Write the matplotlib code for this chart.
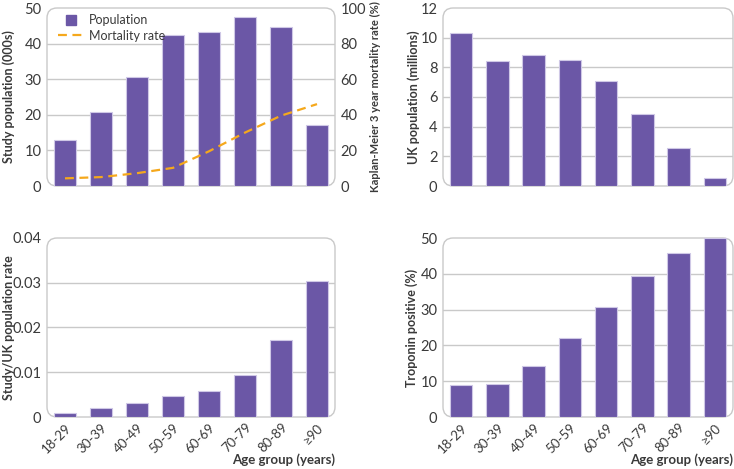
import matplotlib
matplotlib.use("Agg")
import matplotlib.pyplot as plt
from matplotlib.lines import Line2D
from matplotlib.patches import FancyBboxPatch

plt.rcParams["font.family"] = ["Lato", "DejaVu Sans"]

# ---------------------------------------------------------------------------
# Data
# ---------------------------------------------------------------------------
age_groups = ["18-29", "30-39", "40-49", "50-59", "60-69", "70-79", "80-89", "≥90"]
study_pop = [13.0, 20.8, 30.5, 42.3, 43.3, 47.5, 44.7, 17.2]          # 000s
mortality = [4.3, 5.0, 7.2, 10.2, 19.5, 30.0, 39.5, 46.0]             # %
uk_pop = [10.3, 8.4, 8.85, 8.5, 7.1, 4.85, 2.55, 0.55]                # millions
pop_rate = [0.0009, 0.0021, 0.0032, 0.0046, 0.0057, 0.0094, 0.0172, 0.0305]
troponin = [8.9, 9.2, 14.2, 22.1, 30.8, 39.3, 45.8, 50.0]             # %

BAR = "#6b57a6"
EDGE = "#cfc8e6"
ORANGE = "#f5a81c"
GRID = "#c9c9c9"
TXT = "#3a3a3a"


def style(ax, ymax, step, fmt=None):
    ax.set_xlim(-0.5, 7.5)
    ax.set_ylim(0, ymax)
    ticks = [i * step for i in range(int(round(ymax / step)) + 1)]
    ax.set_yticks(ticks)
    if fmt:
        ax.set_yticklabels([fmt(t) for t in ticks])
    for t in ticks[1:-1]:
        ax.axhline(t, color=GRID, lw=1.0, zorder=0)
    for s in ax.spines.values():
        s.set_visible(False)
    ax.tick_params(length=0, labelsize=10.5, colors=TXT, pad=4)
    box = FancyBboxPatch((0, 0), 1, 1, boxstyle="round,pad=0,rounding_size=0.035",
                         transform=ax.transAxes, fill=False, ec=GRID, lw=1.0,
                         clip_on=False, zorder=0.5,
                         mutation_aspect=ax.bbox.width / ax.bbox.height)
    ax.add_patch(box)


def bars(ax, vals):
    return ax.bar(range(len(vals)), vals, width=0.62, color=BAR, edgecolor=EDGE,
                  lw=0.8, zorder=2)


def ylab(ax, text, xpos, size=9):
    ax.set_ylabel(text, fontsize=size, fontweight="bold", color=TXT)
    ax.yaxis.set_label_coords(xpos, 0.5)


fig = plt.figure(figsize=(7.34, 4.69), dpi=100)
W, H = 734, 469


def add_axes(x0, x1, ytop, ybot):
    return fig.add_axes([x0 / W, 1 - ybot / H, (x1 - x0) / W, (ybot - ytop) / H])


ax1 = add_axes(47, 335, 8, 186)
ax2 = add_axes(443, 733, 8, 186)
ax3 = add_axes(47, 335, 238, 417)
ax4 = add_axes(443, 733, 238, 417)

# top left: study population + mortality
style(ax1, 50, 10)
bars(ax1, study_pop)
ax1.set_xticks(range(8))
ax1.set_xticklabels([])
ylab(ax1, "Study population (000s)", -0.11)
ax1r = ax1.twinx()
ax1r.set_ylim(0, 100)
ax1r.set_yticks(range(0, 101, 20))
for s in ax1r.spines.values():
    s.set_visible(False)
ax1r.tick_params(length=0, labelsize=10.5, colors=TXT, pad=4)
ln, = ax1r.plot(range(8), mortality, color=ORANGE, lw=1.6, ls=(0, (4, 2.5)), zorder=3)
ylab(ax1r, "Kaplan-Meier 3 year mortality rate (%)", 1.123, size=8.0)
pop_handle = Line2D([], [], marker="s", ls="", color=BAR, markersize=7.5)
ax1r.legend([pop_handle, ln], ["Population", "Mortality rate"], loc="upper left",
            bbox_to_anchor=(0.0, 1.03), frameon=False, fontsize=9,
            handlelength=2.0, handletextpad=0.45, labelspacing=0.3, labelcolor=TXT)

# top right: UK population
style(ax2, 12, 2)
bars(ax2, uk_pop)
ax2.set_xticks(range(8))
ax2.set_xticklabels([])
ylab(ax2, "UK population (millions)", -0.079)

# bottom left: ratio
style(ax3, 0.04, 0.01, fmt=lambda t: "0" if t == 0 else f"{t:.2f}")
bars(ax3, pop_rate)
ylab(ax3, "Study/UK population rate", -0.112)

# bottom right: troponin
style(ax4, 50, 10)
bars(ax4, troponin)
ylab(ax4, "Troponin positive (%)", -0.086)

for ax in (ax3, ax4):
    ax.set_xticks(range(8))
    ax.set_xticklabels(age_groups, rotation=45, ha="right", rotation_mode="anchor",
                       fontsize=9.5)
    ax.tick_params(axis="x", pad=3)
    ax.text(1.0, -0.205, "Age group (years)", transform=ax.transAxes, ha="right", va="top",
            fontsize=9.5, fontweight="bold", color=TXT)

fig.savefig("out.png", dpi=100)
